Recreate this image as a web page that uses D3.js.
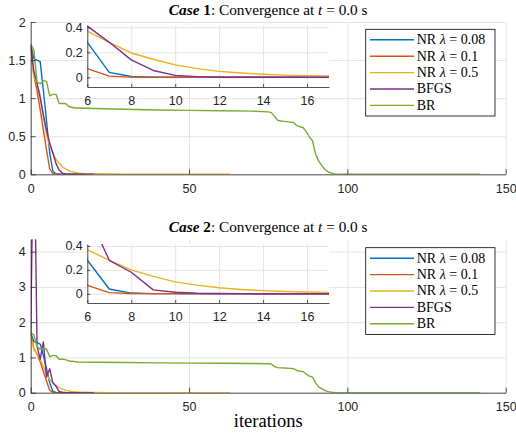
<!DOCTYPE html>
<html>
<head>
<meta charset="utf-8">
<script src="https://cdn.jsdelivr.net/npm/d3@7"></script>
<style>
  body { margin: 0; background: #fff; }
  svg { display: block; }
</style>
</head>
<body>
<div id="chart"></div>
<script>
// series names (legend order) and colours
const names = ['NR λ = 0.08', 'NR λ = 0.1', 'NR λ = 0.5', 'BFGS', 'BR'];
const colors = ['#0072BD', '#D95319', '#EDB120', '#7E2F8E', '#77AC30'];

// ---- Case 1 ----
const c1_nr008_x = [0, 1, 2, 3, 4, 5, 6, 7, 8, 9, 17];
const c1_nr008_y = [1.7, 1.52, 1.5, 1.48, 1.1, 0.7, 0.28, 0.04, 0.007, 0.001, 0];
const c1_nr01_x = [0, 1, 2, 3, 4, 5, 6, 7, 8, 17];
const c1_nr01_y = [1.7, 1.3, 1.1, 0.85, 0.58, 0.32, 0.07, 0.01, 0.002, 0];
const c1_nr05_x = [0, 1, 2, 3, 4, 5, 6, 7, 8, 9, 10, 11, 12, 13, 14, 15, 16, 17, 20, 25, 30, 40, 63];
const c1_nr05_y = [1.65, 1.28, 1.18, 1.05, 0.75, 0.52, 0.37, 0.28, 0.195, 0.145, 0.1, 0.07, 0.048, 0.035, 0.025, 0.018, 0.014, 0.011, 0.007, 0.003, 0.001, 0, 0];
const c1_bfgs_x = [0, 1, 2, 3, 4, 5, 6, 7, 8, 9, 10, 11, 12, 13, 20];
const c1_bfgs_y = [1.7, 1.35, 1.2, 1.0, 0.78, 0.58, 0.41, 0.28, 0.14, 0.055, 0.016, 0.006, 0.002, 0.001, 0];
const c1_br_x = [0, 1, 2, 3, 4, 5, 6, 7, 8, 9, 10, 11, 12, 13, 14, 15, 20, 30, 40, 50, 60, 70, 75, 76, 77, 78, 79, 80, 82, 83, 84, 85, 86, 87, 88, 89, 90, 91, 92, 93, 94, 95, 96, 97, 100, 142];
const c1_br_y = [1.71, 1.63, 1.21, 1.19, 1.23, 1.22, 1.03, 1.05, 1.05, 0.93, 0.93, 0.93, 0.89, 0.88, 0.87, 0.87, 0.865, 0.855, 0.845, 0.84, 0.835, 0.83, 0.82, 0.81, 0.76, 0.71, 0.7, 0.695, 0.685, 0.68, 0.64, 0.625, 0.615, 0.56, 0.49, 0.44, 0.26, 0.17, 0.11, 0.06, 0.03, 0.015, 0.006, 0.002, 0, 0];

// ---- Case 2 ----
const c2_nr008_x = [0, 1, 2, 3, 4, 5, 6, 7, 8, 9, 17];
const c2_nr008_y = [1.7, 1.45, 1.42, 1.38, 1.05, 0.68, 0.28, 0.04, 0.006, 0.001, 0];
const c2_nr01_x = [0, 1, 2, 3, 4, 5, 6, 7, 8, 17];
const c2_nr01_y = [1.7, 1.25, 1.1, 0.88, 0.6, 0.33, 0.07, 0.01, 0.002, 0];
const c2_nr05_x = [0, 1, 2, 3, 4, 5, 6, 7, 8, 9, 10, 11, 12, 13, 14, 15, 16, 17, 20, 25, 30, 40, 63];
const c2_nr05_y = [1.6, 1.22, 1.1, 0.95, 0.75, 0.52, 0.37, 0.28, 0.2, 0.145, 0.1, 0.072, 0.05, 0.036, 0.026, 0.019, 0.015, 0.012, 0.007, 0.003, 0.001, 0, 0];
const c2_bfgs_x = [0, 1, 2, 3, 4, 5, 6, 7, 8, 9, 10, 11, 12, 13, 20];
const c2_bfgs_y = [1.7, 8, 1.32, 0.95, 1.44, 0.45, 0.68, 0.28, 0.18, 0.033, 0.013, 0.005, 0.002, 0.001, 0];
const c2_br_x = [0, 1, 2, 3, 4, 5, 6, 7, 8, 9, 10, 11, 12, 13, 14, 15, 20, 30, 40, 50, 60, 70, 75, 76, 77, 78, 79, 80, 82, 83, 84, 85, 86, 87, 88, 89, 90, 91, 92, 93, 94, 95, 96, 97, 100, 142];
const c2_br_y = [1.7, 1.64, 1.3, 1.23, 1.26, 1.24, 1.02, 1.05, 1.05, 0.95, 0.95, 0.94, 0.9, 0.89, 0.88, 0.87, 0.865, 0.855, 0.845, 0.84, 0.835, 0.83, 0.82, 0.81, 0.74, 0.71, 0.705, 0.7, 0.69, 0.68, 0.63, 0.61, 0.6, 0.53, 0.47, 0.44, 0.27, 0.16, 0.11, 0.06, 0.03, 0.014, 0.006, 0.002, 0, 0];

// axis ticks
const xTicks = [0, 50, 100, 150];
const y1Ticks = [0, 0.5, 1, 1.5, 2];
const y2Ticks = [0, 1, 2, 3, 4];
const insetXTicks = [6, 8, 10, 12, 14, 16];
const insetYTicks = [0, 0.2, 0.4];

const W = 516, H = 434;
const svg = d3.select('#chart').append('svg').attr('width', W).attr('height', H);

const sans = '"Liberation Sans", Arial, sans-serif';
const serif = '"Liberation Serif", "Times New Roman", serif';
const axisColor = '#262626';
const gridColor = '#e4e4e4';
const fmt = d => String(d);

function toPoints(xs, ys) {
  return xs.map((x, i) => [x, ys[i]]);
}

const panels = [
  {
    id: 1, caseNo: '1', top: 22, bottom: 174.3, yMax: 2, yTicks: y1Ticks,
    insetTop: 25.3, insetBottom: 87, legendTop: 29.3, titleY: 14.5,
    series: [toPoints(c1_nr008_x, c1_nr008_y), toPoints(c1_nr01_x, c1_nr01_y),
             toPoints(c1_nr05_x, c1_nr05_y), toPoints(c1_bfgs_x, c1_bfgs_y),
             toPoints(c1_br_x, c1_br_y)]
  },
  {
    id: 2, caseNo: '2', top: 239.3, bottom: 392.7, yMax: 4.35, yTicks: y2Ticks,
    insetTop: 244, insetBottom: 303, legendTop: 247.7, titleY: 232,
    series: [toPoints(c2_nr008_x, c2_nr008_y), toPoints(c2_nr01_x, c2_nr01_y),
             toPoints(c2_nr05_x, c2_nr05_y), toPoints(c2_bfgs_x, c2_bfgs_y),
             toPoints(c2_br_x, c2_br_y)]
  }
];

const left = 30.7, right = 505.7;
const insetLeft = 87.3, insetRight = 329;

function styleAxis(g, fontSize) {
  g.select('.domain').attr('stroke', axisColor).attr('stroke-width', 0.8);
  g.selectAll('.tick line').attr('stroke', axisColor).attr('stroke-width', 0.8);
  g.selectAll('.tick text').attr('fill', axisColor)
    .style('font-family', sans).style('font-size', fontSize + 'px');
}

panels.forEach(p => {
  const x = d3.scaleLinear().domain([0, 150]).range([left, right]);
  const y = d3.scaleLinear().domain([0, p.yMax]).range([p.bottom, p.top]);
  const g = svg.append('g');

  // grid
  g.append('g')
    .attr('transform', `translate(0,${p.bottom})`)
    .call(d3.axisBottom(x).tickValues(xTicks).tickSize(-(p.bottom - p.top)).tickFormat(''))
    .call(a => a.select('.domain').remove())
    .selectAll('line').attr('stroke', gridColor);
  g.append('g')
    .attr('transform', `translate(${left},0)`)
    .call(d3.axisLeft(y).tickValues(p.yTicks).tickSize(-(right - left)).tickFormat(''))
    .call(a => a.select('.domain').remove())
    .selectAll('line').attr('stroke', gridColor);

  // clip
  svg.append('clipPath').attr('id', 'clip' + p.id)
    .append('rect').attr('x', left).attr('y', p.top)
    .attr('width', right - left).attr('height', p.bottom - p.top);

  const line = d3.line().x(d => x(d[0])).y(d => y(d[1]));
  g.append('g').attr('clip-path', `url(#clip${p.id})`)
    .selectAll('path').data(p.series).join('path')
    .attr('d', line).attr('fill', 'none')
    .attr('stroke', (d, i) => colors[i]).attr('stroke-width', 1.4)
    .attr('stroke-linejoin', 'round');

  // axes
  g.append('g')
    .attr('transform', `translate(0,${p.bottom})`)
    .call(d3.axisBottom(x).tickValues(xTicks).tickFormat(fmt).tickSizeInner(-5).tickSizeOuter(0).tickPadding(9.5))
    .call(a => styleAxis(a, 12.5));
  g.append('g')
    .attr('transform', `translate(${left},0)`)
    .call(d3.axisLeft(y).tickValues(p.yTicks).tickFormat(fmt).tickSizeInner(-5).tickSizeOuter(0).tickPadding(5))
    .call(a => styleAxis(a, 12.5));

  // title
  const t = g.append('text').attr('x', (left + right) / 2).attr('y', p.titleY)
    .attr('text-anchor', 'middle').style('font-family', serif).style('font-size', '15.3px')
    .attr('fill', '#000');
  t.append('tspan').text('Case').style('font-weight', 'bold').style('font-style', 'italic');
  t.append('tspan').text(' ' + p.caseNo).style('font-weight', 'bold');
  t.append('tspan').text(': Convergence at ');
  t.append('tspan').text('t').style('font-style', 'italic');
  t.append('tspan').text(' = 0.0 s');

  // inset
  const ix = d3.scaleLinear().domain([6, 17]).range([insetLeft, insetRight]);
  const iy = d3.scaleLinear().domain([-0.077, 0.416]).range([p.insetBottom, p.insetTop]);
  const ig = svg.append('g');
  ig.append('rect').attr('x', insetLeft).attr('y', p.insetTop)
    .attr('width', insetRight - insetLeft).attr('height', p.insetBottom - p.insetTop)
    .attr('fill', '#fff');
  ig.append('g')
    .attr('transform', `translate(0,${p.insetBottom})`)
    .call(d3.axisBottom(ix).tickValues(insetXTicks).tickSize(-(p.insetBottom - p.insetTop)).tickFormat(''))
    .call(a => a.select('.domain').remove())
    .selectAll('line').attr('stroke', gridColor);
  ig.append('g')
    .attr('transform', `translate(${insetLeft},0)`)
    .call(d3.axisLeft(iy).tickValues(insetYTicks).tickSize(-(insetRight - insetLeft)).tickFormat(''))
    .call(a => a.select('.domain').remove())
    .selectAll('line').attr('stroke', gridColor);

  svg.append('clipPath').attr('id', 'iclip' + p.id)
    .append('rect').attr('x', insetLeft).attr('y', p.insetTop)
    .attr('width', insetRight - insetLeft).attr('height', p.insetBottom - p.insetTop);
  const iline = d3.line().x(d => ix(d[0])).y(d => iy(d[1]));
  ig.append('g').attr('clip-path', `url(#iclip${p.id})`)
    .selectAll('path').data(p.series).join('path')
    .attr('d', iline).attr('fill', 'none')
    .attr('stroke', (d, i) => colors[i]).attr('stroke-width', 1.4)
    .attr('stroke-linejoin', 'round');

  ig.append('g')
    .attr('transform', `translate(0,${p.insetBottom})`)
    .call(d3.axisBottom(ix).tickValues(insetXTicks).tickFormat(fmt).tickSizeInner(-3).tickSizeOuter(0).tickPadding(9))
    .call(a => styleAxis(a, 12.5));
  ig.append('g')
    .attr('transform', `translate(${insetLeft},0)`)
    .call(d3.axisLeft(iy).tickValues(insetYTicks).tickFormat(fmt).tickSizeInner(-3).tickSizeOuter(0).tickPadding(4.5))
    .call(a => styleAxis(a, 12.5));

  // legend
  const lx = 365.7, lw = 129.3, lh = 86.7, rowH = 16.4;
  const lg = svg.append('g').attr('transform', `translate(${lx},${p.legendTop})`);
  lg.append('rect').attr('width', lw).attr('height', lh)
    .attr('fill', '#fff').attr('stroke', '#000').attr('stroke-width', 0.8);
  names.forEach((name, i) => {
    const ry = 10.5 + i * rowH;
    lg.append('line').attr('x1', 4.3).attr('x2', 48.3).attr('y1', ry).attr('y2', ry)
      .attr('stroke', colors[i]).attr('stroke-width', 1.4);
    const txt = lg.append('text').attr('x', 51).attr('y', ry + 4.5)
      .style('font-family', serif).style('font-size', '14px').attr('fill', '#000');
    const parts = name.split('λ');
    txt.append('tspan').text(parts[0]);
    if (parts.length > 1) {
      txt.append('tspan').text('λ').style('font-style', 'italic');
      txt.append('tspan').text(parts[1]);
    }
  });
});

// x label
svg.append('text').attr('x', (left + right) / 2).attr('y', 427)
  .attr('text-anchor', 'middle').style('font-family', serif).style('font-size', '18.5px')
  .attr('fill', '#000').text('iterations');
</script>
</body>
</html>
